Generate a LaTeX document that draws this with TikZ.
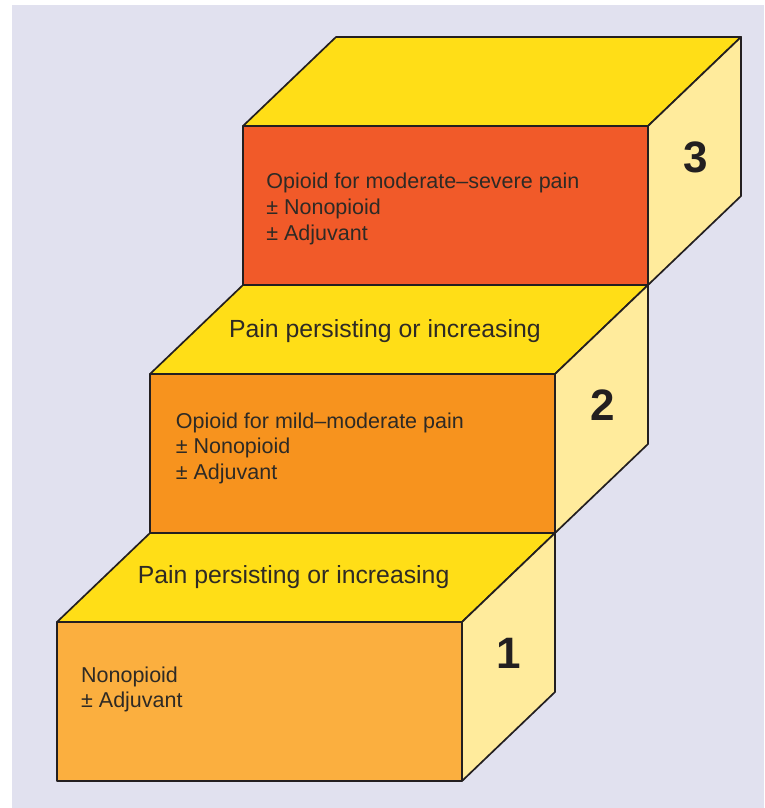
\documentclass[tikz,border=0pt]{standalone}
\usepackage{fontspec}
\setmainfont{Liberation Sans}
\definecolor{bg}{HTML}{E1E1EF}
\definecolor{topyellow}{HTML}{FFDE17}
\definecolor{sideyellow}{HTML}{FFEB9C}
\definecolor{frontone}{HTML}{FBAF3F}
\definecolor{fronttwo}{HTML}{F7931E}
\definecolor{frontthree}{HTML}{F15A29}
\definecolor{edge}{HTML}{231F20}
\definecolor{txt}{HTML}{2E2A25}
\newcommand{\drawstair}[3]{%
  \filldraw[fill=#3] (#1,#2) rectangle ++(405,159);
  \filldraw[fill=topyellow] (#1,#2) -- ++(93,-89) -- ++(405,0) -- ++(-93,89) -- cycle;
  \filldraw[fill=sideyellow] (#1+405,#2) -- ++(93,-89) -- ++(0,159) -- ++(-93,89) -- cycle;
}
\tikzset{
  bodytext/.style={anchor=base west, inner sep=0pt, text=txt, font=\fontsize{21.5}{25.7}\selectfont},
  paintext/.style={anchor=center, inner sep=0pt, text=txt, font=\fontsize{24.8}{28}\selectfont},
  numtext/.style={anchor=center, inner sep=0pt, text=edge, font=\fontsize{44}{46}\selectfont\bfseries}
}
\begin{document}
\begin{tikzpicture}[x=1pt,y=-1pt,line width=1.7pt,line join=round,draw=edge]
\useasboundingbox (0,0) rectangle (764,808);
\fill[bg] (12,5) rectangle (764,808);
\drawstair{57}{622}{frontone}
\drawstair{150}{374}{fronttwo}
\drawstair{243}{126}{frontthree}
% step 1
\node[paintext] (p1) at (293.6,577.5) {Pain persisting or increasing};
\node[bodytext] (s1a) at (80.3,682) {Nonopioid};
\node[bodytext] (s1b) at (80.3,707.7) {± Adjuvant};
\node[numtext] (n1) at (509,653) {1};
% step 2
\node[paintext] (p2) at (384.9,331.3) {Pain persisting or increasing};
\node[bodytext] (s2a) at (175,428) {Opioid for mild–moderate pain};
\node[bodytext] (s2b) at (175,453.7) {± Nonopioid};
\node[bodytext] (s2c) at (175,479.4) {± Adjuvant};
\node[numtext] (n2) at (602.6,405) {2};
% step 3
\node[bodytext] (s3a) at (265.5,188.7) {Opioid for moderate–severe pain};
\node[bodytext] (s3b) at (265.5,214.4) {± Nonopioid};
\node[bodytext] (s3c) at (265.5,240) {± Adjuvant};
\node[numtext] (n3) at (696,157) {3};
\end{tikzpicture}
\end{document}
